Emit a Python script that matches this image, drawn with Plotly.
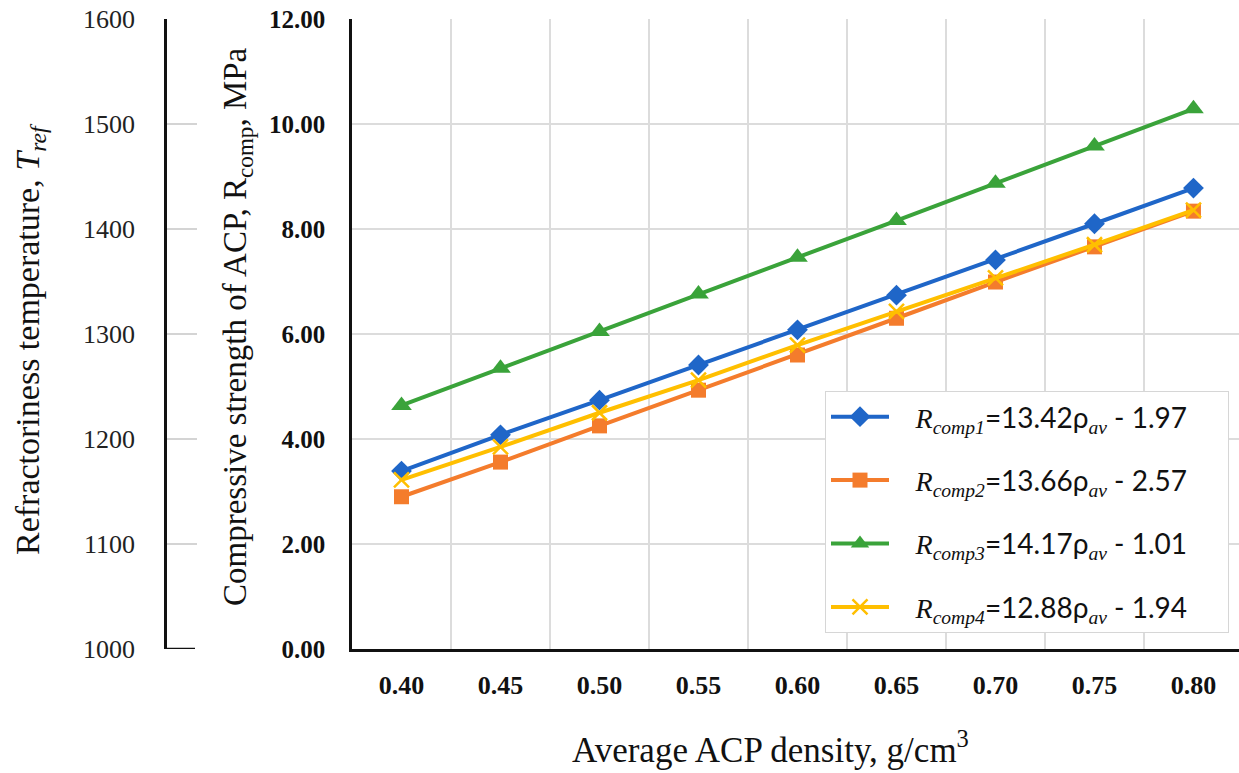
import plotly.graph_objects as go

density = ["0.40", "0.45", "0.50", "0.55", "0.60", "0.65", "0.70", "0.75", "0.80"]
r_comp1 = [3.39, 4.08, 4.74, 5.41, 6.08, 6.74, 7.41, 8.10, 8.78]
r_comp2 = [2.90, 3.56, 4.25, 4.93, 5.60, 6.30, 6.99, 7.66, 8.34]
r_comp3 = [4.64, 5.35, 6.05, 6.76, 7.46, 8.16, 8.87, 9.58, 10.29]
r_comp4 = [3.22, 3.85, 4.50, 5.12, 5.79, 6.43, 7.07, 7.70, 8.36]

names = [
    ("1", "13.42", "1.97"),
    ("2", "13.66", "2.57"),
    ("3", "14.17", "1.01"),
    ("4", "12.88", "1.94"),
]
colors = ["#1f66c8", "#f47c2c", "#3aa33a", "#ffbf00"]
symbols = ["diamond", "square", "triangle-up", "x-thin"]
msizes = [16, 15, 18, 15]
series = [r_comp1, r_comp2, r_comp3, r_comp4]

SERIF = "Liberation Serif"
SANS = "Lato"
NB = "\u00a0"

def label(idx, slope, icpt):
    return (NB * 3 +
            f"<span style='font-family:{SERIF}'><i>R<sub>comp{idx}</sub></i></span>"
            f"={slope}ρ<sub><span style='font-family:{SERIF}'><i>av</i></span></sub> - {icpt}"
            + NB * 5)

fig = go.Figure()
for i, (vals, col, sym, ms, nm) in enumerate(zip(series, colors, symbols, msizes, names)):
    marker = dict(symbol=sym, size=ms, color=col)
    if sym == "x-thin":
        marker = dict(symbol=sym, size=ms, color=col, line=dict(color=col, width=2.5))
    fig.add_trace(go.Scatter(
        x=density, y=vals, mode="lines+markers",
        line=dict(color=col, width=4),
        marker=marker,
        name=label(*nm),
        legendgroup=f"g{i}",
    ))

W, H = 1239, 773
T, B = 19, 124
PH = H - T - B
left = 352 / W

def py(v):
    return (H - B - v) / PH

fig.update_layout(
    width=W, height=H,
    margin=dict(l=0, r=0, t=T, b=B),
    paper_bgcolor="white", plot_bgcolor="white",
    showlegend=True,
    legend=dict(
        x=825 / W, y=py(391), xanchor="left", yanchor="top",
        bgcolor="white", bordercolor="#d6d6d6", borderwidth=1,
        font=dict(family=SANS, size=28, color="#111"),
        tracegroupgap=24, itemwidth=58,
    ),
    xaxis=dict(
        domain=[left, 1.0],
        type="category",
        range=[-0.5, 8.46],
        tickson="boundaries",
        showgrid=True, gridcolor="#dcdcdc", gridwidth=1.5,
        showline=True, linecolor="#111", linewidth=2.5,
        ticks="", ticklabelstandoff=11,
        tickfont=dict(family=SERIF, size=26, color="#111", weight="bold"),
    ),
    yaxis=dict(
        range=[0, 12], dtick=2, tickformat=".2f",
        showgrid=True, gridcolor="#dcdcdc", gridwidth=1.5,
        showline=True, linecolor="#111", linewidth=2.5,
        ticks="", ticklabelstandoff=19, zeroline=False,
        tickfont=dict(family=SERIF, size=25, color="#111", weight="bold"),
    ),
    yaxis2=dict(
        overlaying="y", anchor="free", position=165 / W, side="left",
        range=[1000, 1600], dtick=100,
        showgrid=False, zeroline=False,
        showline=True, linecolor="#111", linewidth=2.5,
        ticks="inside", ticklen=30, tickcolor="#d4d4d4", tickwidth=2,
        ticklabelstandoff=24,
        tickfont=dict(family=SERIF, size=26, color="#222"),
    ),
)

fig.add_shape(type="line", xref="paper", yref="y2",
              x0=165 / W, x1=195 / W, y0=1000, y1=1000,
              line=dict(color="#111", width=2.5))

fig.add_annotation(
    text="Compressive strength of ACP, R<sub>comp</sub>, MPa",
    textangle=-90, xref="paper", yref="paper",
    x=237 / W, y=py(327), xanchor="center", yanchor="middle",
    showarrow=False, font=dict(family=SERIF, size=33, color="#111"),
)
fig.add_annotation(
    text="Refractoriness temperature, <i>T<sub>ref</sub></i>",
    textangle=-90, xref="paper", yref="paper",
    x=30 / W, y=py(339), xanchor="center", yanchor="middle",
    showarrow=False, font=dict(family=SERIF, size=34, color="#111"),
)
fig.add_annotation(
    text="Average ACP density, g/cm<sup>3</sup>",
    xref="paper", yref="paper",
    x=770 / W, y=py(748), xanchor="center", yanchor="middle",
    showarrow=False, font=dict(family=SERIF, size=35, color="#111"),
)

fig.write_html("out.html", config={"displayModeBar": False},
               post_script="document.body.style.margin='0';document.body.style.overflow='hidden';")
